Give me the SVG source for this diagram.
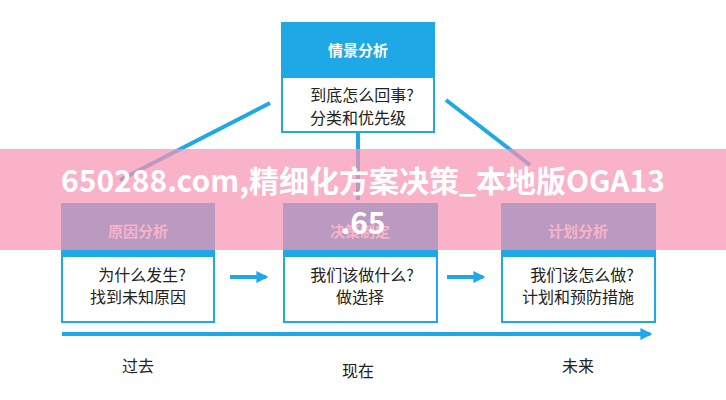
<svg xmlns="http://www.w3.org/2000/svg" width="726" height="400" viewBox="0 0 726 400">
<defs>
<style>
.hd{fill:#1fa8e6}.bd{fill:#fff;stroke:#1fa8e6;stroke-width:2}
.ht{font-family:"Noto Sans CJK SC",sans-serif;font-size:15px;font-weight:bold;fill:#fff;text-anchor:middle}
.bt{font-family:"Noto Sans CJK SC",sans-serif;font-size:16px;fill:#222;text-anchor:middle}
.ln{stroke:#1fa8e6;stroke-width:4;fill:none}
.wm{font-family:"Noto Sans CJK SC",sans-serif;font-size:30px;font-weight:bold;fill:#fff;text-anchor:middle}
</style>
<marker id="ah" viewBox="0 0 10 10" refX="8" refY="5" markerWidth="3" markerHeight="3" orient="auto"><path d="M0,0L10,5L0,10z" fill="#1fa8e6"/></marker>
</defs>
<rect width="726" height="400" fill="#fff"/>
<g id="connectors">
<line class="ln" x1="270" y1="103" x2="120" y2="180"/>
<line class="ln" x1="358" y1="133" x2="358" y2="200"/>
<line class="ln" x1="446" y1="100" x2="530" y2="165"/>
<line class="ln" x1="230" y1="277" x2="266" y2="277" marker-end="url(#ah)"/>
<line class="ln" x1="447" y1="277" x2="483" y2="277" marker-end="url(#ah)"/>
<line class="ln" x1="62" y1="334" x2="650" y2="334" stroke-width="3" marker-end="url(#ah)"/>
</g>
<g id="top">
<rect class="bd" x="282" y="23" width="152" height="109"/>
<rect class="hd" x="282" y="23" width="152" height="55"/>
<text class="ht" x="358" y="56">情景分析</text>
<text class="bt" x="362" y="101">到底怎么回事?</text>
<text class="bt" x="358" y="124">分类和优先级</text>
</g>
<g id="n1">
<rect class="bd" x="62" y="204" width="152" height="118"/>
<rect class="hd" x="62" y="204" width="152" height="53"/>
<text class="ht" x="138" y="237">原因分析</text>
<text class="bt" x="142" y="281">为什么发生?</text>
<text class="bt" x="138" y="303">找到未知原因</text>
</g>
<g id="n2">
<rect class="bd" x="284" y="204" width="153" height="118"/>
<rect class="hd" x="284" y="204" width="153" height="53"/>
<text class="ht" x="360" y="237">决策制定</text>
<text class="bt" x="362" y="281">我们该做什么?</text>
<text class="bt" x="360" y="303">做选择</text>
</g>
<g id="n3">
<rect class="bd" x="502" y="204" width="153" height="118"/>
<rect class="hd" x="502" y="204" width="153" height="53"/>
<text class="ht" x="578" y="237">计划分析</text>
<text class="bt" x="582" y="281">我们该怎么做?</text>
<text class="bt" x="578" y="303">计划和预防措施</text>
</g>
<g id="time">
<text class="bt" x="138" y="372">过去</text>
<text class="bt" x="358" y="377">现在</text>
<text class="bt" x="578" y="372">未来</text>
</g>
<g id="watermark">
<rect x="0" y="149" width="726" height="101" fill="#f794b2" opacity="0.72"/>
<text class="wm" x="363" y="192">650288.com,精细化方案决策_本地版OGA13</text>
<text class="wm" x="363" y="234">.65</text>
</g>
</svg>
